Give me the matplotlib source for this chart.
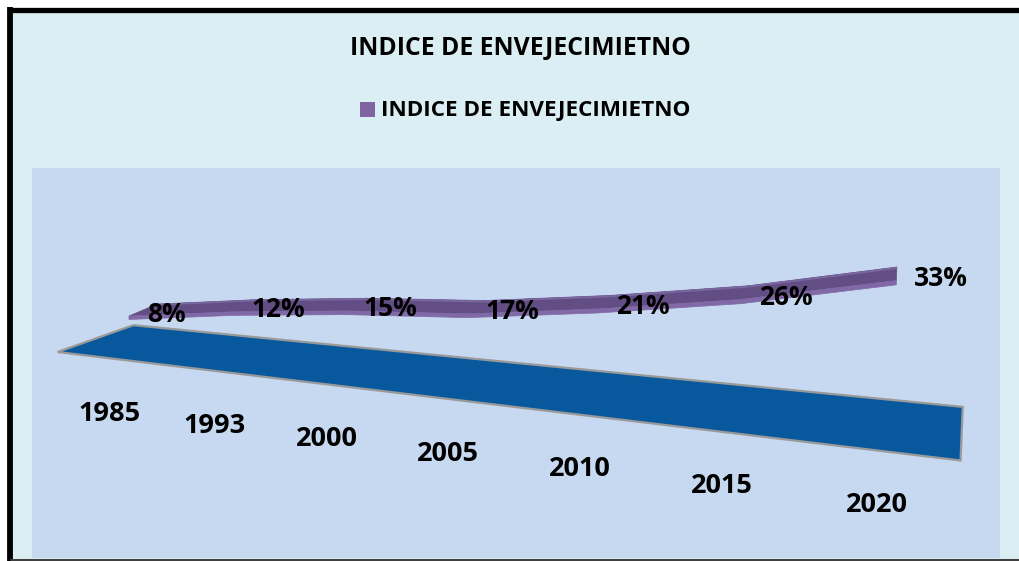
import numpy as np
import matplotlib.pyplot as plt
from matplotlib.patches import Rectangle, Polygon

# ----------------------- Data ---------------------------
years = ["1985", "1993", "2000", "2005", "2010", "2015", "2020"]
indice = [8, 12, 15, 17, 21, 26, 33]   # percent
title = "INDICE DE ENVEJECIMIETNO"
series_name = "INDICE DE ENVEJECIMIETNO"

# ----------------------- 3D look (Excel style 3-D line) ---------------------------
# X = category index, Y = value (%), Z = depth (0 = ribbon front, 1 = ribbon back)
def proj(X, Y, Z):
    D = 1 - 0.03535 * X + 0.03716 * Z
    sx = (96.2 * X + 33.8 * Z + 129) / D
    sy = (-1.55 * X - 3.43 * Y - 0.7 * Z + 343.5) / D
    return sx, sy

plt.rcParams["font.family"] = ["Open Sans", "DejaVu Sans"]

fig = plt.figure(figsize=(10.2, 5.61), dpi=100)
fig.patch.set_facecolor("white")
ax = fig.add_axes([0, 0, 1, 1])
ax.set_xlim(0, 1020)
ax.set_ylim(561, 0)
ax.axis("off")

# chart area + frame
ax.add_patch(Rectangle((8, 8), 1030, 552, facecolor="#DBEEF4", edgecolor="none", zorder=0))
ax.plot([10, 1020], [9.5, 9.5], color="black", lw=3.8, solid_capstyle="butt", zorder=1)
ax.plot([10, 10], [7, 561], color="black", lw=4.2, solid_capstyle="butt", zorder=1)
ax.plot([10, 1020], [559.5, 559.5], color="#404040", lw=2.2, solid_capstyle="butt", zorder=1)

# plot area
ax.add_patch(Rectangle((32, 168), 968, 390, facecolor="#C6D9F0", edgecolor="none", zorder=1))

# floor (corners in category / depth units)
n = len(years)
floor_X = np.array([-0.42, n - 0.63, n - 0.58, -0.3])
floor_Z = np.array([-0.95, -1.3, 1.2, 1.2])
fx, fy = proj(floor_X, 0, floor_Z)
ax.add_patch(Polygon(np.column_stack([fx, fy]), closed=True, facecolor="#08589E",
                     edgecolor="#999999", lw=1.6, zorder=2))

# ribbon
for i in range(n - 1):
    X = np.array([i, i + 1, i + 1, i])
    V = np.array([indice[i], indice[i + 1], indice[i + 1], indice[i]])
    tx, ty = proj(X, V, np.array([0, 0, 1, 1]))
    ax.add_patch(Polygon(np.column_stack([tx, ty]), closed=True, facecolor="#624E84",
                         edgecolor="#624E84", lw=0.5, zorder=3))
    ex, ey = proj(X, V, np.array([0.85, 0.85, 1, 1]))
    ax.add_patch(Polygon(np.column_stack([ex, ey]), closed=True, facecolor="#7A66A0",
                         edgecolor="none", zorder=3))
    bx, by = proj(X, V - np.array([0, 0, 1.0, 1.0]), 0)
    ax.add_patch(Polygon(np.column_stack([bx, by]), closed=True, facecolor="#8069A6",
                         edgecolor="#8069A6", lw=0.5, zorder=3))

# data labels
for i, v in enumerate(indice):
    px, py = proj(i, v, 0)
    ax.text(px + 18, py - 2, f"{v}%", ha="left", va="center", fontsize=19,
            fontweight="bold", color="black", zorder=5)

# category labels
for i, yr in enumerate(years):
    px, _ = proj(i, 0, 0)
    _, py = proj(i, 0, -1.3)
    ax.text(px - 19, py + 52, yr, ha="center", va="center", fontsize=19.5,
            fontweight="bold", color="black", zorder=5)

# title and legend
ax.text(520, 48, title, ha="center", va="center", fontsize=17.8, fontweight="bold", zorder=5)
ax.add_patch(Rectangle((360, 102), 15, 15, facecolor="#8064A2", edgecolor="none", zorder=5))
ax.text(381, 110, series_name, ha="left", va="center", fontsize=16.2, fontweight="bold", zorder=5)

plt.savefig("out.png", dpi=100)
